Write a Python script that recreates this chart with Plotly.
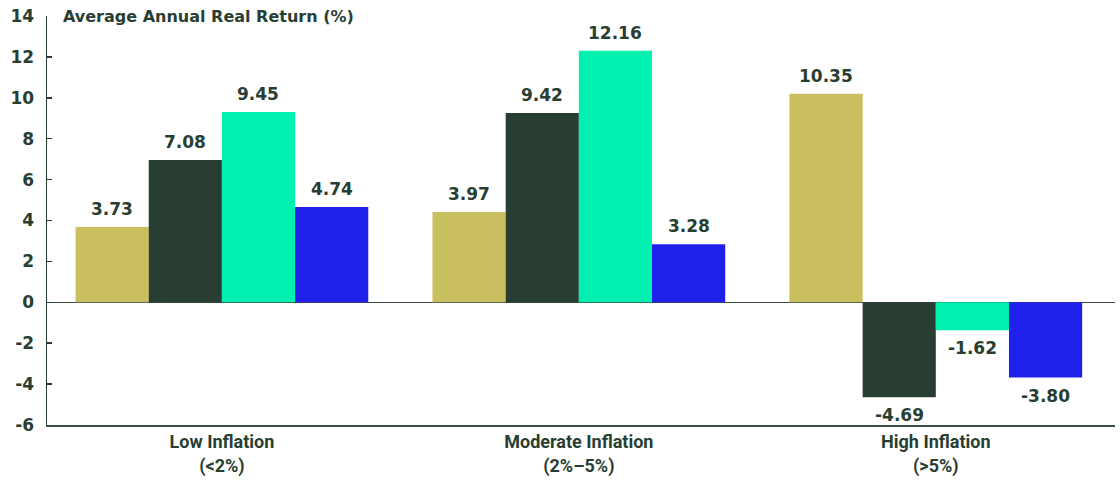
import plotly.graph_objects as go

categories = ["Low Inflation<br>(&lt;2%)", "Moderate Inflation<br>(2%–5%)", "High Inflation<br>(&gt;5%)"]
series_names = ["Series A", "Series B", "Series C", "Series D"]
vals_a = [3.68, 4.41, 10.2]
vals_b = [6.96, 9.26, -4.64]
vals_c = [9.31, 12.3, -1.37]
vals_d = [4.66, 2.84, -3.68]
labels_a = ["3.73", "3.97", "10.35"]
labels_b = ["7.08", "9.42", "-4.69"]
labels_c = ["9.45", "12.16", "-1.62"]
labels_d = ["4.74", "3.28", "-3.80"]
y_ticks = [-6, -4, -2, 0, 2, 4, 6, 8, 10, 12, 14]
y_tick_text = ["-6", "-4", "-2", "0", "2", "4", "6", "8", "10", "12", "14"]

colors = ["#CABF5F", "#283E32", "#00F0B0", "#2020EC"]
TXT = "#283E32"
FONT_VAL = "DejaVu Sans"

series_vals = [vals_a, vals_b, vals_c, vals_d]
series_labels = [labels_a, labels_b, labels_c, labels_d]

bar_w = 0.205
start = -0.41
xs = list(range(len(categories)))

fig = go.Figure()
annotations = []
for k, (name, vals, labs) in enumerate(zip(series_names, series_vals, series_labels)):
    off = start + k * bar_w
    fig.add_trace(go.Bar(
        x=xs, y=vals, name=name, width=bar_w, offset=off,
        marker=dict(color=colors[k], line=dict(width=0)),
        hoverinfo="skip",
    ))
    for i, (v, t) in enumerate(zip(vals, labs)):
        annotations.append(dict(
            x=i + off + bar_w / 2, y=v, xref="x", yref="y",
            text=t, showarrow=False,
            yshift=18 if v >= 0 else -18,
            yanchor="middle",
            font=dict(family=FONT_VAL, size=17, color=TXT, weight="bold"),
        ))

annotations.append(dict(
    x=0.013, y=1.0, xref="paper", yref="paper", xanchor="left", yanchor="middle",
    text="Average Annual Real Return (%)", showarrow=False,
    font=dict(family="DejaVu Sans", size=16, color=TXT, weight="bold"),
))

fig.update_layout(
    width=1120, height=481,
    margin=dict(l=47, r=5, t=16, b=56),
    plot_bgcolor="white", paper_bgcolor="white",
    showlegend=False,
    annotations=annotations,
    xaxis=dict(
        range=[-0.49, 2.502], tickmode="array", tickvals=xs, ticktext=categories,
        showgrid=False, zeroline=False, showline=True, linecolor="#3C4E44", linewidth=1.5,
        automargin=False,
        ticks="", tickfont=dict(family="Roboto", size=18, color=TXT, weight="bold"),
    ),
    yaxis=dict(
        range=[-6, 14], tickmode="array", tickvals=y_ticks, ticktext=y_tick_text,
        showgrid=False, zeroline=True, zerolinecolor="#3C4E44", zerolinewidth=1.5,
        showline=True, linecolor=TXT, linewidth=1.5,
        automargin=False,
        ticks="inside", ticklen=5, tickcolor=TXT, tickwidth=1.5,
        ticklabelstandoff=8,
        tickfont=dict(family="DejaVu Sans", size=17, color=TXT, weight="bold"),
    ),
)

fig.write_html(
    "out.html",
    config={"displayModeBar": False, "staticPlot": True},
    post_script="document.body.style.margin='0';document.body.style.overflow='hidden';",
)
